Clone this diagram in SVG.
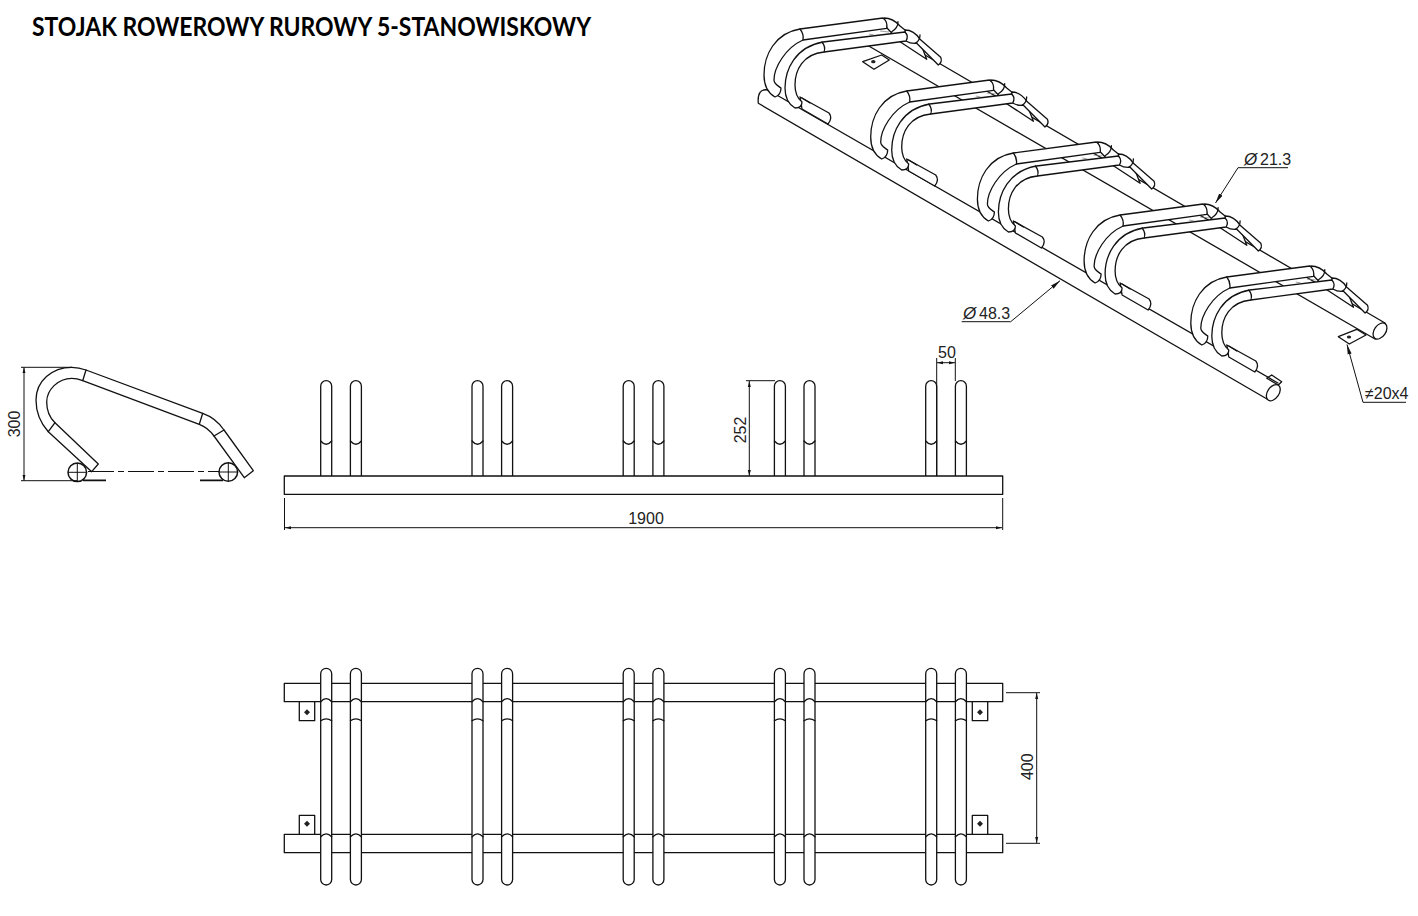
<svg xmlns="http://www.w3.org/2000/svg" width="1418" height="916" viewBox="0 0 1418 916">
<style>
.l{fill:none;stroke:#111;stroke-width:1.3;stroke-linecap:round;stroke-linejoin:round}
.w{fill:#fff;stroke:#111;stroke-width:1.3;stroke-linejoin:round}
.f{fill:none;stroke:#777;stroke-width:.7}
.d{fill:none;stroke:#111;stroke-width:1}
.da{fill:none;stroke:#111;stroke-width:1;marker-start:url(#ar);marker-end:url(#ar)}
.ld{fill:none;stroke:#111;stroke-width:1;marker-end:url(#lead)}
.t{font-family:"Liberation Sans",Arial,sans-serif;font-size:16px;fill:#222}
.o{font-size:17px;font-style:italic;font-family:"Liberation Sans",Arial,sans-serif;fill:#222}
.title{font-family:"Lato","Liberation Sans",sans-serif;font-weight:700;font-size:26px;fill:#000}
</style>
<defs>
<marker id="ar" markerWidth="7" markerHeight="5" refX="6" refY="2.5" orient="auto-start-reverse" markerUnits="userSpaceOnUse">
<path d="M0,1 L6,2.5 L0,4 Z" fill="#111"/>
</marker>
<marker id="lead" markerWidth="11" markerHeight="6" refX="10" refY="3" orient="auto" markerUnits="userSpaceOnUse">
<path d="M0,1 L10,3 L0,5 Z" fill="#111"/>
</marker>
<g id="unit">
<path class="w" d="M884,18 Q893,18 900,26 L920,42 L926.7,59.3 L900,41.7 L887,28 Z"/>
<path class="w" d="M800,97 L829,113 Q833,118 828,124 L802,109 Z"/>
<path class="l" d="M802,98 L810,103"/>
<path class="w" d="M800,29 L883,18 Q888,22 886.7,28.3 L803,40 C785,48 774,68 774,80 C774,84 777,85 781,88 Q781,95 775,97 C768,93 764,85 764,75 C764,55 775,33 800,29 Z"/>
<path class="l" d="M800,29 Q804,34 803,40 M898,21.7 Q898,28 891.7,31.7"/>
<path class="w" d="M905,30 Q914,30 920,39.3 L940.7,57.3 Q942.7,62 938.3,65 L916.7,43.3 Q911,44 906,41 Z"/>
<path class="l" d="M920,35 Q920,41 915,43.3"/>
<path class="w" d="M823,42 L905,32 Q909,36 906,41 L824,52 C803,54 795,70 795,85 C795,93 797,98 802,102 Q802,108 795,108 C788,104 785,97 785,88 C785,70 795,47 823,42 Z"/>
<path class="l" d="M822,42 Q826,47 824,52"/>
<path class="f" d="M869,34 L874,35 M880,31 L889,32"/>
</g>
<g id="ft">
<path class="w" d="M0,476 V386.2 a5.5,5.5 0 0 1 11,0 V476"/>
<path class="l" d="M0,441 Q5.5,447.5 11,441"/>
</g>
<g id="tt">
<rect class="w" x="0" y="668.3" width="11" height="216.7" rx="5.5"/>
<path class="l" d="M0,701.7 Q5.5,695.5 11,701.7 M0,720.7 Q5.5,717 11,720.7 M0,836.7 Q5.5,831 11,836.7"/>
</g>
<g id="pl">
<rect class="w" x="0" y="0" width="15.4" height="19"/>
<path d="M7.7,7.6 L10.7,10.6 L7.7,13.6 L4.7,10.6 Z" fill="#222"/>
</g>
</defs>

<text class="title" x="32" y="36" textLength="559" lengthAdjust="spacingAndGlyphs">STOJAK ROWEROWY RUROWY 5-STANOWISKOWY</text>

<g id="iso-view">
<path class="w" d="M862.7,61.7 L881.7,55 L889.3,60 L874,69.3 Z"/>
<ellipse cx="873.3" cy="61.7" rx="2.2" ry="1.6" fill="#222"/>
<path class="w" d="M1338.3,336.7 L1356.7,329.3 L1366,335 L1349.3,344 Z"/>
<ellipse cx="1349" cy="337" rx="2.2" ry="1.6" fill="#222"/>
<path class="l" d="M867,45 L1375,339 M925,55 L1385,323"/>
<ellipse class="w" cx="1380" cy="331" rx="5.7" ry="9" transform="rotate(35 1380 331)"/>
<path class="w" d="M1266.7,378.3 L1271.7,375 L1281.7,381.7 L1278.3,385 Z"/>
<path class="l" d="M1278,383 L768,90 Q757,88 758.3,103.3 L1267,399"/>
<ellipse class="w" cx="1273.3" cy="392.7" rx="5.7" ry="9" transform="rotate(35 1273.3 392.7)"/>
<use href="#unit"/>
<use href="#unit" x="106.7" y="62"/>
<use href="#unit" x="213.4" y="124"/>
<use href="#unit" x="320.1" y="186"/>
<use href="#unit" x="426.8" y="248"/>
</g>

<g id="dim-iso">
<path class="ld" d="M1288,167.7 H1238 L1215.5,203"/>
<text class="o" x="1244" y="165">Ø</text><text class="t" x="1260" y="165">21.3</text>
<path class="ld" d="M961.7,321.7 H1010.7 L1060,280.7"/>
<text class="o" x="963" y="319">Ø</text><text class="t" x="979" y="319">48.3</text>
<path class="ld" d="M1406,402.3 H1363 L1347,344.5"/>
<text class="t" x="1365" y="399">≠20x4</text>
</g>

<g id="side-view">
<path class="w" d="M91.7,471.7 L48.3,431.7 C40,422.5 36,412 36,400 C36,381 52,367.3 71.7,367.3 Q79,367.3 86,370 L202.7,413.3 Q216,418 224,430 L253.3,470.7 L244.3,477.7 L214,436 Q208,427.5 199.3,424.3 L82.7,380.7 Q77,378.3 71.7,378.3 C58,378.3 46.7,390 46.7,402 C46.7,410 49.5,417.5 55,422.7 L98.3,464 Z"/>
<path class="l" d="M86,370 L82.7,380.7 M202.7,413.3 L199.3,424.3 M224,430 L214,436 M55,422.7 L48.3,431.7"/>
<path class="d" d="M88,471.5 H220" stroke-dasharray="26 4 6 4"/>
<circle class="w" style="stroke-width:1.5" cx="77.3" cy="472.3" r="9.3"/>
<circle class="w" style="stroke-width:1.5" cx="228.3" cy="472" r="9.3"/>
<path class="d" d="M68,472.3 H87 M77.3,463 V481.6 M219,472 H238 M228.3,462.7 V481.3"/>
<path class="d" style="stroke-width:1.6" d="M83,480.4 H106 M200,480.4 H223"/>
<path class="d" d="M21,367.3 H72 M21,480.7 H77"/>
<path class="da" d="M24,367.3 V480.7"/>
<text class="t" transform="translate(20,424) rotate(-90)" text-anchor="middle">300</text>
</g>

<g id="front-view">
<use href="#ft" x="320.7"/><use href="#ft" x="350.4"/>
<use href="#ft" x="472"/><use href="#ft" x="501.6"/>
<use href="#ft" x="623.2"/><use href="#ft" x="652.9"/>
<use href="#ft" x="774.4"/><use href="#ft" x="804"/>
<use href="#ft" x="925.7"/><use href="#ft" x="955.4"/>
<rect class="w" x="284.3" y="476" width="718.4" height="18.3"/>
<path class="d" d="M284.5,498 V530 M1002.7,498 V530 M936.7,358 V476 M955.3,358 V381 M746,380.7 H775"/>
<path class="da" d="M285,527.7 H1002"/>
<path class="da" d="M749.3,381 V476"/>
<path class="da" d="M937,362.7 H955"/>
<text class="t" x="646" y="524" text-anchor="middle">1900</text>
<text class="t" transform="translate(746,430) rotate(-90)" text-anchor="middle">252</text>
<text class="t" x="947" y="358" text-anchor="middle">50</text>
</g>

<g id="top-view">
<rect class="w" x="284.3" y="683.3" width="718.4" height="18.4"/>
<rect class="w" x="284.3" y="834.3" width="718.4" height="18.4"/>
<use href="#pl" x="299.3" y="701.7"/>
<use href="#pl" transform="matrix(1 0 0 -1 299.3 834.3)"/>
<use href="#pl" x="972.3" y="701.7"/>
<use href="#pl" transform="matrix(1 0 0 -1 972.3 834.3)"/>
<use href="#tt" x="320.7"/><use href="#tt" x="350.4"/>
<use href="#tt" x="472"/><use href="#tt" x="501.6"/>
<use href="#tt" x="623.2"/><use href="#tt" x="652.9"/>
<use href="#tt" x="774.4"/><use href="#tt" x="804"/>
<use href="#tt" x="925.7"/><use href="#tt" x="955.4"/>
<path class="d" d="M1006,692.7 H1040 M1006,843.3 H1040"/>
<path class="da" d="M1036.7,693 V843"/>
<text class="t" transform="translate(1033,766.7) rotate(-90)" text-anchor="middle">400</text>
</g>
</svg>
